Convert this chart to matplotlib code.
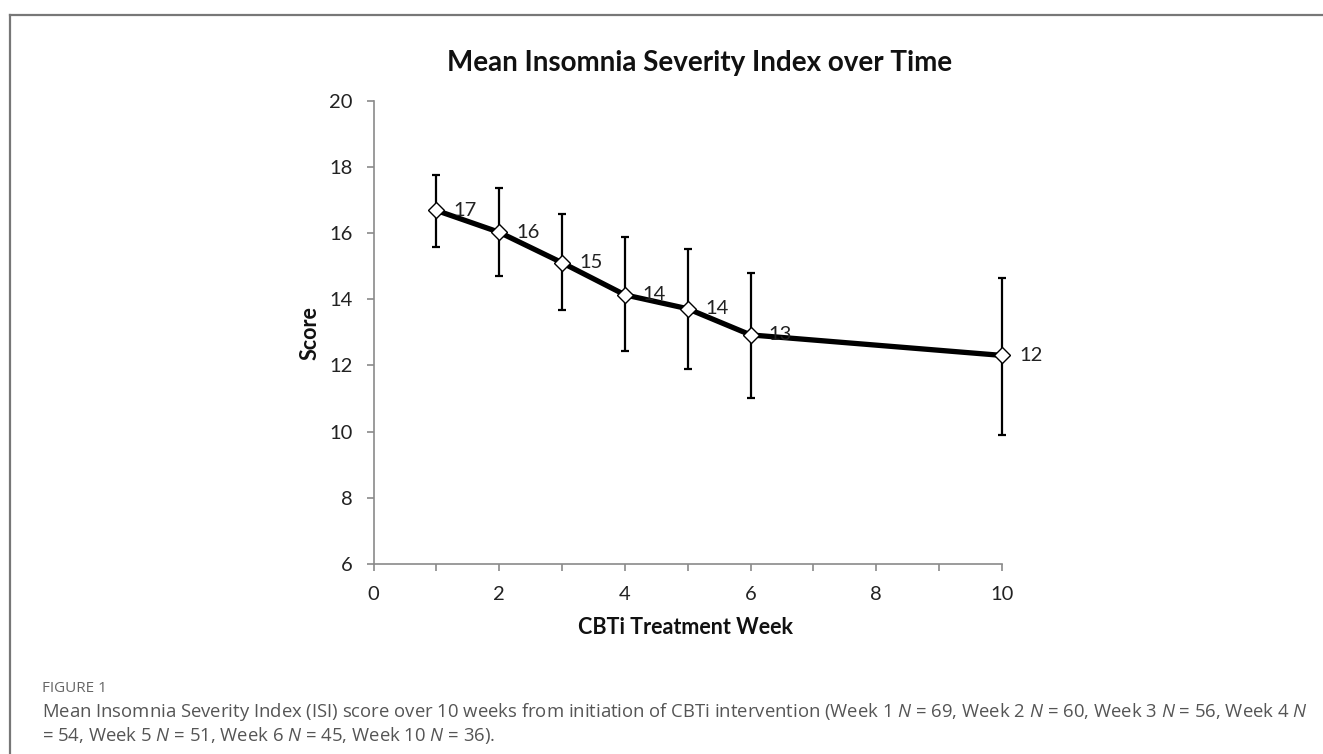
import matplotlib
matplotlib.use("Agg")
import matplotlib.pyplot as plt
from matplotlib.lines import Line2D

weeks = [1, 2, 3, 4, 5, 6, 10]
mean_isi = [16.68, 16.02, 15.10, 14.13, 13.71, 12.92, 12.30]
err_upper = [1.08, 1.34, 1.48, 1.74, 1.79, 1.88, 2.35]
err_lower = [1.12, 1.31, 1.44, 1.71, 1.82, 1.92, 2.39]
point_labels = ["17", "16", "15", "14", "14", "13", "12"]
x_ticks = [0, 2, 4, 6, 8, 10]
y_ticks = [6, 8, 10, 12, 14, 16, 18, 20]

title = "Mean Insomnia Severity Index over Time"
xlabel = "CBTi Treatment Week"
ylabel = "Score"
fig_label = "FIGURE 1"
caption1 = (r"Mean Insomnia Severity Index (ISI) score over 10 weeks from initiation of CBTi intervention "
            r"(Week 1 $N$ = 69, Week 2 $N$ = 60, Week 3 $N$ = 56, Week 4 $N$")
caption2 = r"= 54, Week 5 $N$ = 51, Week 6 $N$ = 45, Week 10 $N$ = 36)."

plt.rcParams['font.family'] = ['Lato', 'DejaVu Sans']
plt.rcParams['mathtext.fontset'] = 'custom'
plt.rcParams['mathtext.it'] = 'Open Sans:italic'
plt.rcParams['mathtext.rm'] = 'Open Sans'

W, H = 1323, 754
fig = plt.figure(figsize=(W / 100, H / 100), dpi=100)
fig.patch.set_facecolor('white')

# frame lines
fig.add_artist(Line2D([9.5 / W, 1.0], [1 - 14.5 / H, 1 - 14.5 / H], color='#777777', lw=1.6,
                      transform=fig.transFigure))
fig.add_artist(Line2D([9.5 / W, 9.5 / W], [0, 1 - 14.5 / H], color='#777777', lw=1.6,
                      transform=fig.transFigure))

ax = fig.add_axes([373.5 / W, 1 - 564 / H, (1002 - 373.5) / W, (564 - 100.5) / H])
ax.errorbar(weeks, mean_isi, yerr=[err_lower, err_upper], fmt='none', ecolor='black',
            elinewidth=1.6, capsize=2.8, capthick=1.6, zorder=2, clip_on=False)
ax.plot(weeks, mean_isi, color='black', lw=3.8, marker='D', markersize=8,
        markerfacecolor='white', markeredgecolor='black', markeredgewidth=1.0, zorder=3, clip_on=False)
for x, y, lab in zip(weeks, mean_isi, point_labels):
    ax.annotate(lab, (x, y), xytext=(12.5, 0), textcoords='offset points', ha='left', va='center',
                fontsize=14.5, color='#222222', zorder=4)

ax.set_xlim(0, 10)
ax.set_ylim(6, 20)
ax.set_xticks(x_ticks)
ax.set_xticks(range(0, 11), minor=True)
ax.set_yticks(y_ticks)
for s in ['top', 'right']:
    ax.spines[s].set_visible(False)
for s in ['left', 'bottom']:
    ax.spines[s].set_color('#8a8a8a')
    ax.spines[s].set_linewidth(1.2)
ax.tick_params(axis='both', which='both', color='#8a8a8a', width=1.2, length=5,
               labelsize=14.5, labelcolor='#222222', direction='out')
ax.tick_params(axis='x', pad=11)
ax.tick_params(axis='y', pad=10)

fig.text(700 / W, 1 - 63 / H, title, ha='center', va='center', fontsize=20, fontweight='bold', color='#111111')
fig.text(685 / W, 1 - 628 / H, xlabel, ha='center', va='center', fontsize=15.5, fontweight='bold', color='#111111')
fig.text(310 / W, 1 - 333 / H, ylabel, ha='center', va='center', rotation=90, fontsize=15.5,
         fontweight='bold', color='#111111')

fig.text(42 / W, 1 - 689 / H, fig_label, ha='left', va='center', fontsize=11, color='#666666',
         family='Open Sans')
fig.text(42 / W, 1 - 712 / H, caption1, ha='left', va='center', fontsize=13.3, color='#555555',
         family='Open Sans')
fig.text(42 / W, 1 - 735 / H, caption2, ha='left', va='center', fontsize=13.3, color='#555555',
         family='Open Sans')

fig.savefig('out.png', dpi=100)
